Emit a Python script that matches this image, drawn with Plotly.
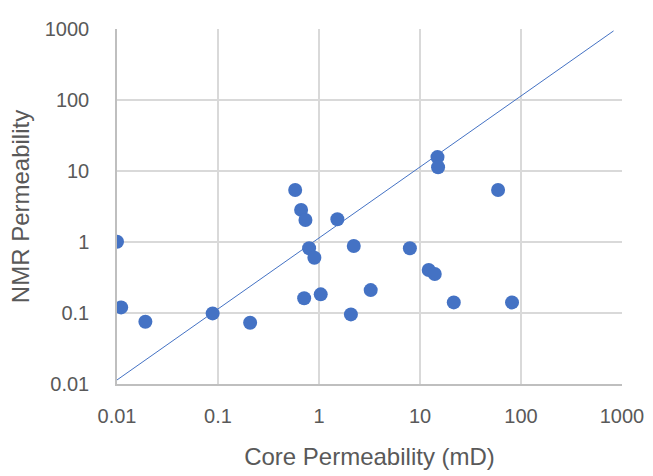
import plotly.graph_objects as go

core_perm = [0.0100, 0.0110, 0.0191, 0.0885, 0.208, 0.581, 0.665, 0.734, 1.52, 0.798,
             0.900, 2.21, 0.713, 1.04, 3.25, 2.07, 14.9, 15.1, 59.3, 7.94,
             12.2, 14.0, 21.6, 81.5]
nmr_perm = [1.01, 0.120, 0.0752, 0.0987, 0.0728, 5.41, 2.83, 2.04, 2.09, 0.815,
            0.601, 0.879, 0.161, 0.183, 0.210, 0.0955, 15.7, 11.3, 5.41, 0.815,
            0.403, 0.354, 0.141, 0.141]

line_x = [0.01, 825]
line_y = [0.0114, 940]

tick_vals = [0.01, 0.1, 1, 10, 100, 1000]
tick_text = ["0.01", "0.1", "1", "10", "100", "1000"]

blue = "#4472C4"
fig = go.Figure()
fig.add_trace(go.Scatter(x=line_x, y=line_y, mode="lines",
                         line=dict(color=blue, width=1), showlegend=False))
fig.add_trace(go.Scatter(x=core_perm, y=nmr_perm, mode="markers",
                         marker=dict(color=blue, size=14, line=dict(width=0)),
                         showlegend=False))

font = dict(family="Liberation Sans, Arial, sans-serif", size=20, color="#595959")
fig.update_layout(
    width=653, height=476,
    margin=dict(l=117, r=31, t=29, b=92, autoexpand=False),
    paper_bgcolor="white", plot_bgcolor="white",
    font=font,
    xaxis=dict(type="log", range=[-2, 3], tickvals=tick_vals, ticktext=tick_text,
               showgrid=True, gridcolor="#D9D9D9", gridwidth=1.5,
               showline=True, linecolor="#BFBFBF", linewidth=1.5,
               zeroline=False, ticks="", ticklabelstandoff=13,
               title=dict(text="Core Permeability (mD)", standoff=22,
                          font=dict(size=24, color="#595959"))),
    yaxis=dict(type="log", range=[-2, 3], tickvals=tick_vals, ticktext=tick_text,
               showgrid=True, gridcolor="#D9D9D9", gridwidth=1.5,
               showline=True, linecolor="#BFBFBF", linewidth=1.5,
               zeroline=False, ticks="", ticklabelstandoff=22,
               title=dict(text="NMR Permeability", standoff=8,
                          font=dict(size=24, color="#595959"))),
)
fig.write_html("out.html")
